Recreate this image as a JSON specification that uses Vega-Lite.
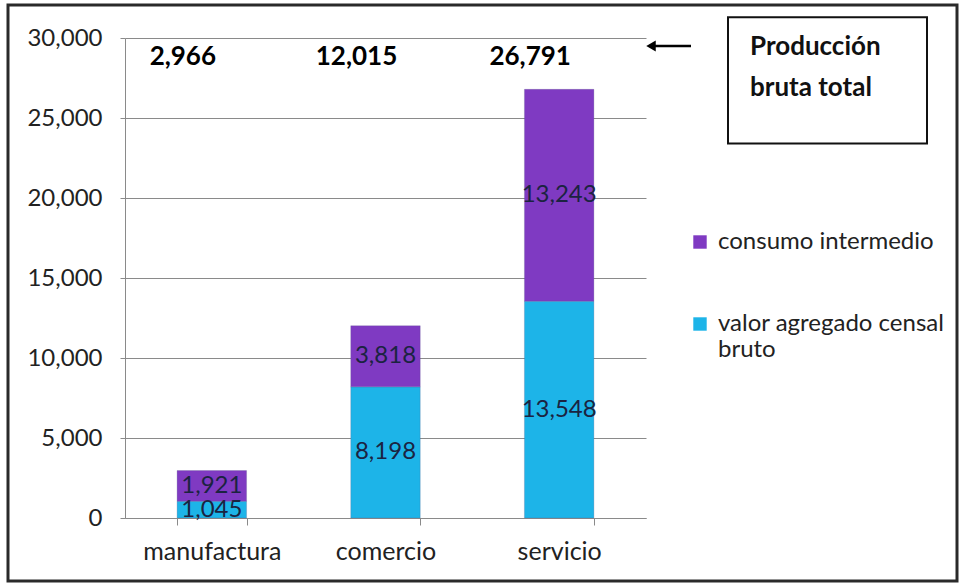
{
  "$schema": "https://vega.github.io/schema/vega-lite/v6.json",
  "autosize": {"type": "none"},
  "width": 521,
  "height": 480,
  "padding": {"left": 125, "top": 38, "right": 314, "bottom": 66},
  "background": "white",
  "config": {
    "view": {"stroke": null},
    "font": "Lato",
    "axis": {"labelFont": "Lato", "labelColor": "#222222", "domainColor": "#8a8a8a", "tickColor": "#8a8a8a", "gridColor": "#8a8a8a", "title": null},
    "axisY": {"labelExpr": "format(datum.value, ',')", "labelFontSize": 24, "labelPadding": 18, "tickSize": 5, "grid": true},
    "legend": {"labelFont": "Lato", "labelFontSize": 24, "labelColor": "#222222"}
  },
  "datasets": {
    "main": [
      {"categoria": "manufactura", "serie": "valor agregado censal bruto", "valor": 1045},
      {"categoria": "manufactura", "serie": "consumo intermedio", "valor": 1921},
      {"categoria": "comercio", "serie": "valor agregado censal bruto", "valor": 8198},
      {"categoria": "comercio", "serie": "consumo intermedio", "valor": 3818},
      {"categoria": "servicio", "serie": "valor agregado censal bruto", "valor": 13548},
      {"categoria": "servicio", "serie": "consumo intermedio", "valor": 13243}
    ],
    "totales": [
      {"categoria": "manufactura", "total": 2966},
      {"categoria": "comercio", "total": 12015},
      {"categoria": "servicio", "total": 26791}
    ]
  },
  "data": {"name": "main"},
  "encoding": {
    "x": {"field": "categoria", "type": "nominal", "sort": ["manufactura", "comercio", "servicio"],
      "scale": {"paddingInner": 0.6, "paddingOuter": 0.3},
      "axis": {"labelAngle": 0, "tickBand": "extent", "tickSize": 7, "labelPadding": 14, "labelFontSize": 25}}
  },
  "layer": [
    {
      "data": {"values": [{"k": 1}]},
      "mark": {"type": "rect", "fill": null, "stroke": "#2a2a2a", "strokeWidth": 3, "clip": false},
      "encoding": {"x": {"value": -117}, "x2": {"value": 832}, "y": {"value": -33}, "y2": {"value": 543}}
    },
    {
      "mark": {"type": "bar", "stroke": "#5a5a8a", "strokeWidth": 0.5, "strokeOpacity": 0.5},
      "encoding": {
        "y": {"field": "valor", "type": "quantitative", "stack": "zero",
          "scale": {"domain": [0, 30000], "nice": false},
          "axis": {"values": [0, 5000, 10000, 15000, 20000, 25000, 30000], "labelExpr": "format(datum.value, ',')", "grid": true, "tickSize": 5, "labelPadding": 18, "labelFontSize": 24}},
        "color": {"field": "serie", "type": "nominal",
          "scale": {"domain": ["consumo intermedio", "valor agregado censal bruto"], "range": ["#7F3AC2", "#1DB4E8"]},
          "legend": {"title": null, "orient": "none", "legendX": 563, "legendY": 192, "symbolType": "square", "symbolSize": 180, "symbolStrokeWidth": 0, "rowPadding": 58, "labelOffset": 6, "labelLimit": 300,
            "labelExpr": "datum.label == 'valor agregado censal bruto' ? ['valor agregado censal', 'bruto'] : datum.label"}},
        "order": {"field": "serie", "sort": "descending"}
      }
    },
    {
      "transform": [
        {"stack": "valor", "groupby": ["categoria"], "sort": [{"field": "serie", "order": "descending"}], "as": ["y0", "y1"]},
        {"calculate": "(datum.y0 + datum.y1) / 2", "as": "medio"}
      ],
      "mark": {"type": "text", "fontSize": 24, "color": "#1b2341", "baseline": "middle"},
      "encoding": {
        "y": {"field": "medio", "type": "quantitative"},
        "text": {"field": "valor", "type": "quantitative", "format": ","}
      }
    },
    {
      "data": {"name": "totales"},
      "mark": {"type": "text", "fontSize": 26, "fontWeight": "bold", "color": "#000000", "baseline": "middle", "dx": -29},
      "encoding": {
        "x": {"field": "categoria", "type": "nominal", "sort": ["manufactura", "comercio", "servicio"]},
        "y": {"datum": 28800, "type": "quantitative"},
        "text": {"field": "total", "type": "quantitative", "format": ","}
      }
    },
    {
      "data": {"values": [{"k": 1}]},
      "mark": {"type": "rule", "stroke": "#000000", "strokeWidth": 2.5, "clip": false},
      "encoding": {"x": {"value": 528}, "x2": {"value": 566}, "y": {"datum": 29500, "type": "quantitative"}}
    },
    {
      "data": {"values": [{"k": 1}]},
      "mark": {"type": "point", "shape": "triangle-left", "filled": true, "color": "#000000", "size": 120, "opacity": 1, "clip": false},
      "encoding": {"x": {"value": 526}, "y": {"datum": 29500, "type": "quantitative"}}
    },
    {
      "data": {"values": [{"k": 1}]},
      "mark": {"type": "rect", "fill": "white", "stroke": "#111111", "strokeWidth": 2, "clip": false},
      "encoding": {"x": {"value": 603}, "x2": {"value": 802}, "y": {"datum": 31300, "type": "quantitative"}, "y2": {"datum": 23400}}
    },
    {
      "data": {"values": [{"k": 1}]},
      "mark": {"type": "text", "fontSize": 26, "fontWeight": "bold", "color": "#111111", "align": "left", "baseline": "middle", "lineHeight": 41, "clip": false},
      "encoding": {"x": {"value": 625}, "y": {"datum": 29440, "type": "quantitative"}, "text": {"value": ["Producción", "bruta total"]}}
    }
  ]
}
